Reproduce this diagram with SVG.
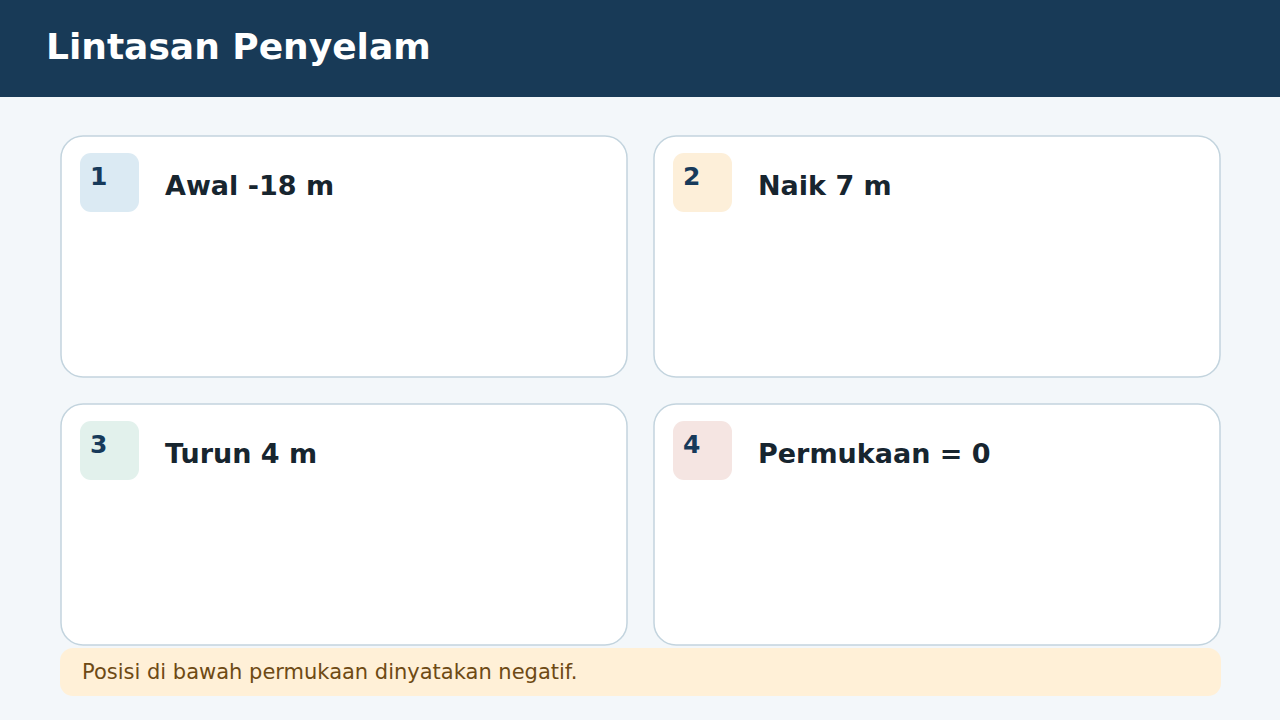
<svg xmlns="http://www.w3.org/2000/svg" width="1280" height="720" viewBox="0 0 1280 720">
<style>
.card{fill:#ffffff;stroke:#c3d4de;stroke-width:1.5}
.num{font-family:"DejaVu Sans",sans-serif;font-weight:bold;font-size:25px;fill:#173a5a}
.ttl{font-family:"DejaVu Sans",sans-serif;font-weight:bold;font-size:27px;fill:#17252f}
</style>
<rect x="0" y="0" width="1280" height="720" fill="#f3f7fa"/>
<g id="header">
<rect x="0" y="0" width="1280" height="97" fill="#183a57"/>
<text x="46" y="59" font-family="DejaVu Sans, sans-serif" font-weight="bold" font-size="36" fill="#ffffff">Lintasan Penyelam</text>
</g>
<g id="node1">
<rect class="card" x="61" y="136" width="566" height="241" rx="22"/>
<rect x="80" y="153" width="59" height="59" rx="11" fill="#dbeaf3"/>
<text class="num" x="90" y="185">1</text>
<text class="ttl" x="165" y="195">Awal -18 m</text>
</g>
<g id="node2">
<rect class="card" x="654" y="136" width="566" height="241" rx="22"/>
<rect x="673" y="153" width="59" height="59" rx="11" fill="#fdefd9"/>
<text class="num" x="683" y="185">2</text>
<text class="ttl" x="758" y="195">Naik 7 m</text>
</g>
<g id="node3">
<rect class="card" x="61" y="404" width="566" height="241" rx="22"/>
<rect x="80" y="421" width="59" height="59" rx="11" fill="#e2f1ec"/>
<text class="num" x="90" y="453">3</text>
<text class="ttl" x="165" y="463">Turun 4 m</text>
</g>
<g id="node4">
<rect class="card" x="654" y="404" width="566" height="241" rx="22"/>
<rect x="673" y="421" width="59" height="59" rx="11" fill="#f5e5e2"/>
<text class="num" x="683" y="453">4</text>
<text class="ttl" x="758" y="463">Permukaan = 0</text>
</g>
<g id="connectors"></g>
<g id="note">
<rect x="60" y="648" width="1161" height="48" rx="13" fill="#fff0d7"/>
<text x="82" y="679" font-family="DejaVu Sans, sans-serif" font-size="21" fill="#6e4a14">Posisi di bawah permukaan dinyatakan negatif.</text>
</g>
</svg>
